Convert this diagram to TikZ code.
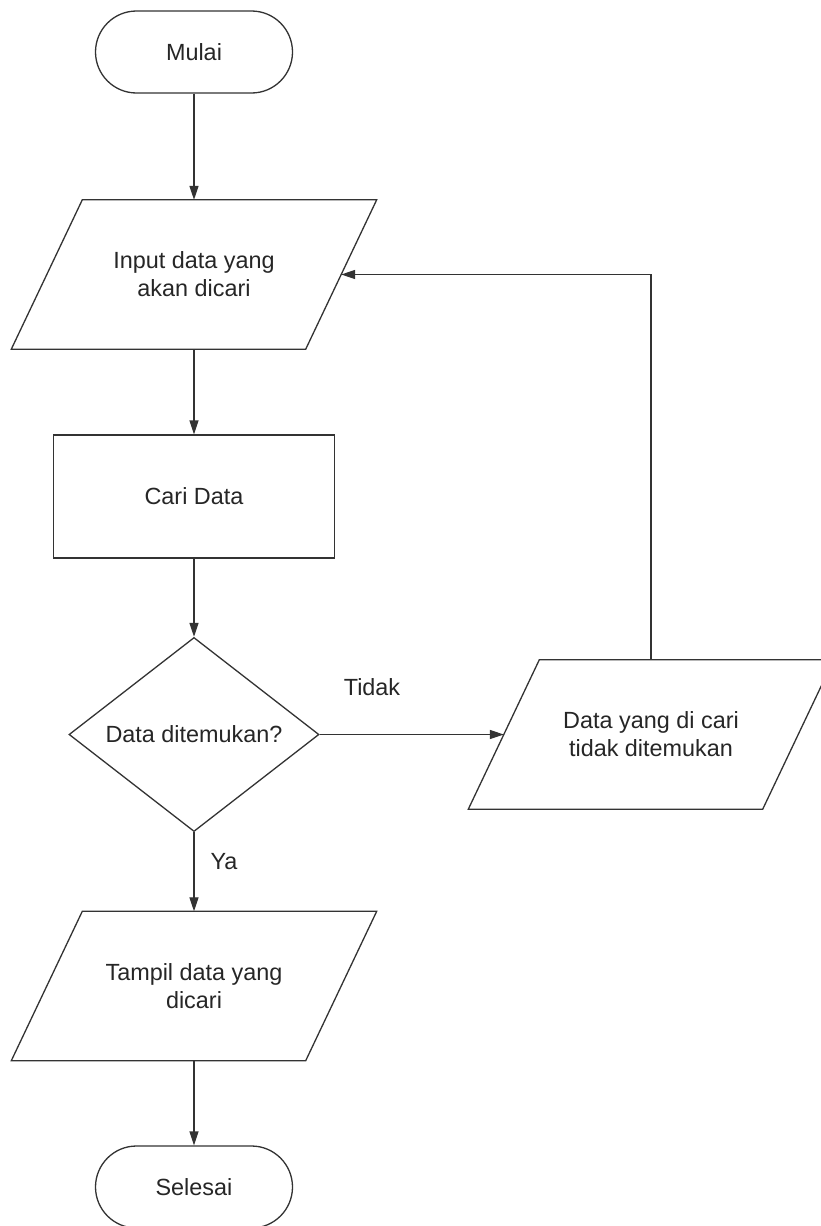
\documentclass[tikz,border=0pt]{standalone}
\usepackage{fontspec}
\setmainfont{Liberation Sans}
\usetikzlibrary{shapes.geometric,arrows.meta}
\definecolor{ln}{HTML}{333333}
\definecolor{txt}{HTML}{262626}
\begin{document}
\begin{tikzpicture}[x=1pt,y=-1pt,
  every node/.style={font=\fontsize{23.4}{28}\selectfont, text=txt},
  shapebox/.style={draw=ln, line width=1.3pt, inner sep=0pt, align=center},
  term/.style={shapebox, rectangle, rounded corners=41pt,
    minimum width=197pt, minimum height=82pt},
  % input/output box: the node is the central rectangle, the slanted
  % outline is drawn around it, shifted left at the bottom and right at the top
  io/.style={rectangle, inner sep=0pt, align=center,
    minimum width=294pt, minimum height=149pt,
    append after command={\pgfextra{
      \draw[draw=ln, line width=1.3pt, line join=miter]
        ([xshift=35.5pt]\tikzlastnode.north west) --
        ([xshift=35.5pt]\tikzlastnode.north east) --
        ([xshift=-35.5pt]\tikzlastnode.south east) --
        ([xshift=-35.5pt]\tikzlastnode.south west) -- cycle;}}},
  proc/.style={shapebox, rectangle, minimum width=281pt, minimum height=123pt},
  decision/.style={shapebox, diamond, minimum width=250pt, minimum height=178pt},
  flow/.style={draw=ln, line width=1.3pt, -{Triangle[length=14pt,width=9pt]}},
  lbl/.style={inner sep=0pt}
]
\fill[white] (0,0) rectangle (820,1226);
\useasboundingbox (0,0) rectangle (820,1226);

% main column
\node[term]     (start)  at (194,52)    {Mulai};
\node[io]       (inp)    at (194,274.5) {Input data yang\\akan dicari};
\node[proc]     (cari)   at (194,496.5) {Cari Data};
\node[decision] (dec)    at (194,734.5) {Data ditemukan?};
\node[io]       (tampil) at (194,986)   {Tampil data yang\\dicari};
\node[term]     (finish) at (194,1187)  {Selesai};

% branch for the "not found" case
\node[io]       (miss)   at (651,734.5) {Data yang di cari\\tidak ditemukan};

% branch labels
\node[lbl] (tidak) at (372,687) {Tidak};
\node[lbl] (ya)    at (224,862) {Ya};

% connectors
\draw[flow] (start) -- (inp);
\draw[flow] (inp) -- (cari);
\draw[flow] (cari) -- (dec);
\draw[flow] (dec) -- (tampil);
\draw[flow] (tampil) -- (finish);
\draw[flow] (dec) -- (miss);
\draw[flow] (miss.north) |- (inp.east);
\end{tikzpicture}
\end{document}
